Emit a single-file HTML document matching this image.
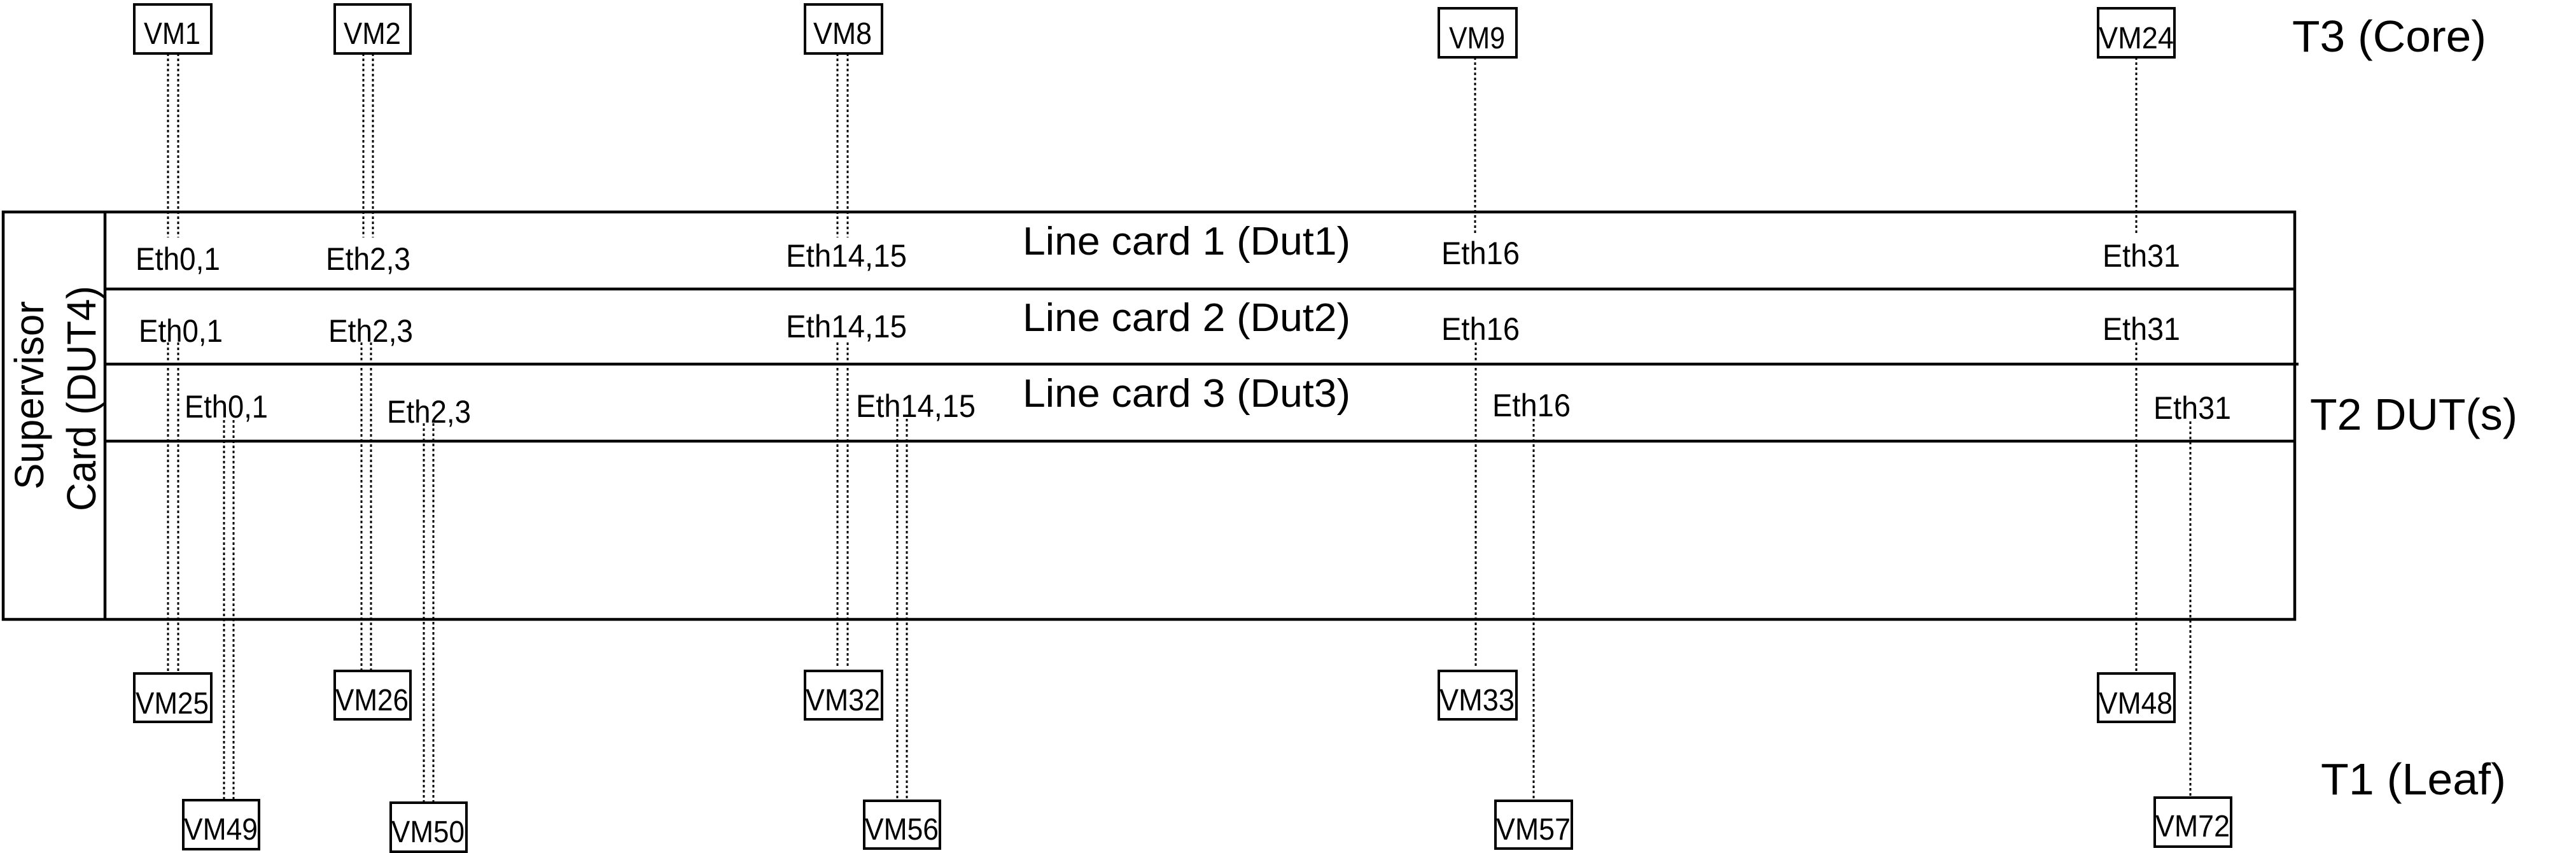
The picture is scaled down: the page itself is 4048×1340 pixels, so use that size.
<!DOCTYPE html>
<html><head><meta charset="utf-8"><style>html,body{margin:0;padding:0;background:#fff}svg{display:block}</style></head>
<body>
<svg xmlns="http://www.w3.org/2000/svg" width="4048" height="1340" viewBox="0 0 4048 1340" font-family="Liberation Sans, DejaVu Sans, sans-serif" fill="#000">
<rect x="0" y="0" width="4048" height="1340" fill="#fff"/>
<g fill="none" stroke="#000" stroke-width="4.5">
<rect x="5" y="333" width="3601" height="640"/>
<line x1="165" y1="333" x2="165" y2="973"/>
<line x1="165" y1="454" x2="3606" y2="454"/>
<line x1="165" y1="572" x2="3612" y2="572"/>
<line x1="165" y1="693" x2="3606" y2="693"/>
</g>
<g stroke="#000" stroke-width="3" stroke-dasharray="4 4">
<line x1="264" y1="84" x2="264" y2="373"/><line x1="280" y1="84" x2="280" y2="373"/>
<line x1="571" y1="84" x2="571" y2="373"/><line x1="586" y1="84" x2="586" y2="373"/>
<line x1="1316" y1="84" x2="1316" y2="373"/><line x1="1332" y1="84" x2="1332" y2="373"/>
<line x1="2318" y1="90" x2="2318" y2="368"/>
<line x1="3357" y1="90" x2="3357" y2="368"/>
<line x1="264" y1="538" x2="264" y2="1058"/><line x1="280" y1="538" x2="280" y2="1058"/>
<line x1="568" y1="538" x2="568" y2="1054"/><line x1="583" y1="538" x2="583" y2="1054"/>
<line x1="1316" y1="538" x2="1316" y2="1048"/><line x1="1332" y1="538" x2="1332" y2="1048"/>
<line x1="2319" y1="538" x2="2319" y2="1048"/>
<line x1="3357" y1="538" x2="3357" y2="1058"/>
<line x1="352" y1="660" x2="352" y2="1257"/><line x1="367" y1="660" x2="367" y2="1257"/>
<line x1="666" y1="665" x2="666" y2="1261"/><line x1="681" y1="665" x2="681" y2="1261"/>
<line x1="1410" y1="658" x2="1410" y2="1258"/><line x1="1425" y1="658" x2="1425" y2="1258"/>
<line x1="2410" y1="658" x2="2410" y2="1258"/>
<line x1="3442" y1="662" x2="3442" y2="1253"/>
</g>
<g fill="#fff" stroke="#000" stroke-width="4">
<rect x="211" y="7" width="121" height="77"/>
<rect x="526" y="7" width="119" height="77"/>
<rect x="1265" y="7" width="121" height="77"/>
<rect x="2261" y="13" width="122" height="77"/>
<rect x="3297" y="13" width="120" height="77"/>
<rect x="211" y="1058" width="121" height="76"/>
<rect x="526" y="1054" width="119" height="76"/>
<rect x="1265" y="1054" width="121" height="76"/>
<rect x="2261" y="1054" width="122" height="76"/>
<rect x="3297" y="1058" width="120" height="76"/>
<rect x="288" y="1257" width="119" height="77"/>
<rect x="614" y="1261" width="119" height="77"/>
<rect x="1358" y="1258" width="119" height="75"/>
<rect x="2350" y="1258" width="120" height="75"/>
<rect x="3386" y="1253" width="120" height="77"/>
</g>
<g font-size="48">
<text x="226" y="69" textLength="89" lengthAdjust="spacingAndGlyphs">VM1</text>
<text x="540" y="69" textLength="90" lengthAdjust="spacingAndGlyphs">VM2</text>
<text x="1278" y="69" textLength="92" lengthAdjust="spacingAndGlyphs">VM8</text>
<text x="2277" y="76" textLength="88" lengthAdjust="spacingAndGlyphs">VM9</text>
<text x="3298" y="76" textLength="118" lengthAdjust="spacingAndGlyphs">VM24</text>
<text x="213" y="1121" textLength="115" lengthAdjust="spacingAndGlyphs">VM25</text>
<text x="527" y="1116" textLength="115" lengthAdjust="spacingAndGlyphs">VM26</text>
<text x="1266" y="1116" textLength="117" lengthAdjust="spacingAndGlyphs">VM32</text>
<text x="2262" y="1116" textLength="118" lengthAdjust="spacingAndGlyphs">VM33</text>
<text x="3298" y="1121" textLength="116" lengthAdjust="spacingAndGlyphs">VM48</text>
<text x="289" y="1319" textLength="116" lengthAdjust="spacingAndGlyphs">VM49</text>
<text x="615" y="1323" textLength="115" lengthAdjust="spacingAndGlyphs">VM50</text>
<text x="1359" y="1319" textLength="116" lengthAdjust="spacingAndGlyphs">VM56</text>
<text x="2351" y="1319" textLength="117" lengthAdjust="spacingAndGlyphs">VM57</text>
<text x="3387" y="1314" textLength="117" lengthAdjust="spacingAndGlyphs">VM72</text>
</g>
<g font-size="50">
<text x="213" y="424" textLength="133" lengthAdjust="spacingAndGlyphs">Eth0,1</text>
<text x="512" y="424" textLength="133" lengthAdjust="spacingAndGlyphs">Eth2,3</text>
<text x="1235" y="419" textLength="190" lengthAdjust="spacingAndGlyphs">Eth14,15</text>
<text x="2265" y="415" textLength="123" lengthAdjust="spacingAndGlyphs">Eth16</text>
<text x="3304" y="419" textLength="122" lengthAdjust="spacingAndGlyphs">Eth31</text>
<text x="218" y="537" textLength="132" lengthAdjust="spacingAndGlyphs">Eth0,1</text>
<text x="516" y="537" textLength="133" lengthAdjust="spacingAndGlyphs">Eth2,3</text>
<text x="1235" y="530" textLength="190" lengthAdjust="spacingAndGlyphs">Eth14,15</text>
<text x="2265" y="534" textLength="123" lengthAdjust="spacingAndGlyphs">Eth16</text>
<text x="3304" y="534" textLength="122" lengthAdjust="spacingAndGlyphs">Eth31</text>
<text x="290" y="656" textLength="131" lengthAdjust="spacingAndGlyphs">Eth0,1</text>
<text x="608" y="664" textLength="132" lengthAdjust="spacingAndGlyphs">Eth2,3</text>
<text x="1345" y="655" textLength="188" lengthAdjust="spacingAndGlyphs">Eth14,15</text>
<text x="2345" y="654" textLength="123" lengthAdjust="spacingAndGlyphs">Eth16</text>
<text x="3384" y="658" textLength="122" lengthAdjust="spacingAndGlyphs">Eth31</text>
</g>
<g font-size="62">
<text x="1607" y="400" textLength="515" lengthAdjust="spacingAndGlyphs">Line card 1 (Dut1)</text>
<text x="1607" y="520" textLength="515" lengthAdjust="spacingAndGlyphs">Line card 2 (Dut2)</text>
<text x="1607" y="639" textLength="515" lengthAdjust="spacingAndGlyphs">Line card 3 (Dut3)</text>
</g>
<g font-size="64" text-anchor="middle">
<text transform="translate(68,621) rotate(-90)" textLength="296" lengthAdjust="spacingAndGlyphs">Supervisor</text>
<text transform="translate(150,626) rotate(-90)" textLength="354" lengthAdjust="spacingAndGlyphs">Card (DUT4)</text>
</g>
<g font-size="70">
<text x="3602" y="81" textLength="305" lengthAdjust="spacingAndGlyphs">T3 (Core)</text>
<text x="3630" y="675" textLength="326" lengthAdjust="spacingAndGlyphs">T2 DUT(s)</text>
<text x="3647" y="1248" textLength="291" lengthAdjust="spacingAndGlyphs">T1 (Leaf)</text>
</g>
</svg>
</body></html>
